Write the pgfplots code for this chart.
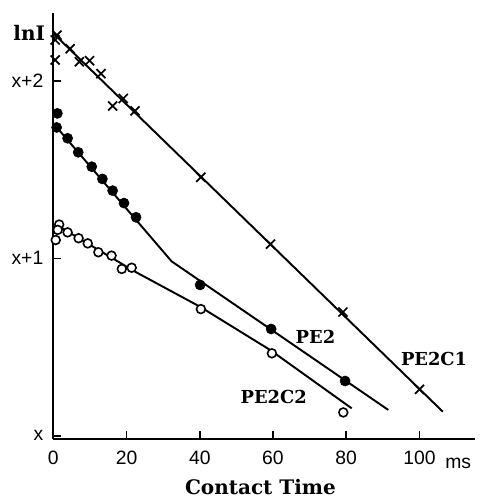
\documentclass[border=0pt]{standalone}
\usepackage{pgfplots}
\pgfplotsset{compat=1.18}
\usepackage{fontspec}
\setmainfont{Liberation Sans}
\newfontfamily\bserif{DejaVu Serif}
\begin{document}
\begin{tikzpicture}
\useasboundingbox (-40pt,-44.6pt) rectangle (323.8pt,328.9pt);
\begin{axis}[
  scale only axis, width=316.3pt, height=319.35pt,
  xmin=0, xmax=115.2, ymin=-0.015, ymax=2.383,
  axis lines=left, axis line style={-, line width=1.5pt},
  xtick={0,20,40,60,80,100}, ytick={0,1,2}, yticklabels={x,x+1,x+2},
  tick align=inside, major tick length=6pt,
  tick style={line width=1.2pt, black},
  /pgf/number format/assume math mode=true,
  ticklabel style={font=\fontsize{14.5}{16}\selectfont},
  xticklabel style={yshift=-5.5pt},
  yticklabel style={xshift=-4pt},
  xlabel={\bserif\bfseries Contact Time},
  xlabel style={font=\fontsize{15}{17}\selectfont, inner sep=0pt, at={(axis description cs:0.491,0)}, anchor=center, yshift=-36.5pt},
  clip=false,
]
% fitted lines
\addplot[black, line width=1.45pt] coordinates {(0,2.267) (106.4,0.136)};
\addplot[black, line width=1.45pt] coordinates {(0,1.76) (32.3,0.983) (91.5,0.146)};
\addplot[black, line width=1.45pt] coordinates {(1.5,1.18) (22.3,0.925) (40.1,0.727) (59.2,0.484) (81.5,0.155)};
% PE2C1 crosses
\addplot[only marks, mark=x, mark size=4.8pt, line width=1.3pt, black] coordinates {
 (0.5,2.23) (1.0,2.257) (0.5,2.117) (4.6,2.18) (7.1,2.107) (9.9,2.113) (13.0,2.04)
 (16.2,1.858) (19.1,1.9) (22.3,1.83) (40.3,1.456) (59.3,1.08) (79.1,0.697) (100,0.262)};
% PE2 filled circles
\addplot[only marks, mark=*, mark size=3.8pt, black] coordinates {
 (1.1,1.816) (0.9,1.737) (3.9,1.676) (6.8,1.597) (10.5,1.516) (13.4,1.447) (16.2,1.381)
 (19.3,1.311) (22.6,1.231) (40.1,0.85) (59.5,0.602) (79.7,0.309)};
% PE2C2 open circles
\addplot[only marks, mark=*, mark size=3.3pt, line width=1.2pt, draw=black, fill=white] coordinates {
 (1.6,1.19) (1.2,1.16) (0.65,1.103) (3.9,1.146) (6.9,1.113) (9.4,1.084) (12.3,1.034)
 (15.9,1.015) (18.7,0.94) (21.4,0.947) (40.3,0.714) (59.7,0.465) (79.2,0.132)};
\node[font=\bserif\bfseries\fontsize{15}{17}\selectfont] at (axis cs:-6.6,2.27) {lnI};
\node[font=\bserif\bfseries\fontsize{13.4}{15}\selectfont] at (axis cs:71.6,0.555) {PE2};
\node[font=\bserif\bfseries\fontsize{13.4}{15}\selectfont] at (axis cs:60.2,0.221) {PE2C2};
\node[font=\bserif\bfseries\fontsize{13.4}{15}\selectfont] at (axis cs:104,0.431) {PE2C1};
\node[font=\fontsize{14.5}{16}\selectfont] at (axis cs:110.6,-0.153) {ms};
\end{axis}
\end{tikzpicture}
\end{document}
